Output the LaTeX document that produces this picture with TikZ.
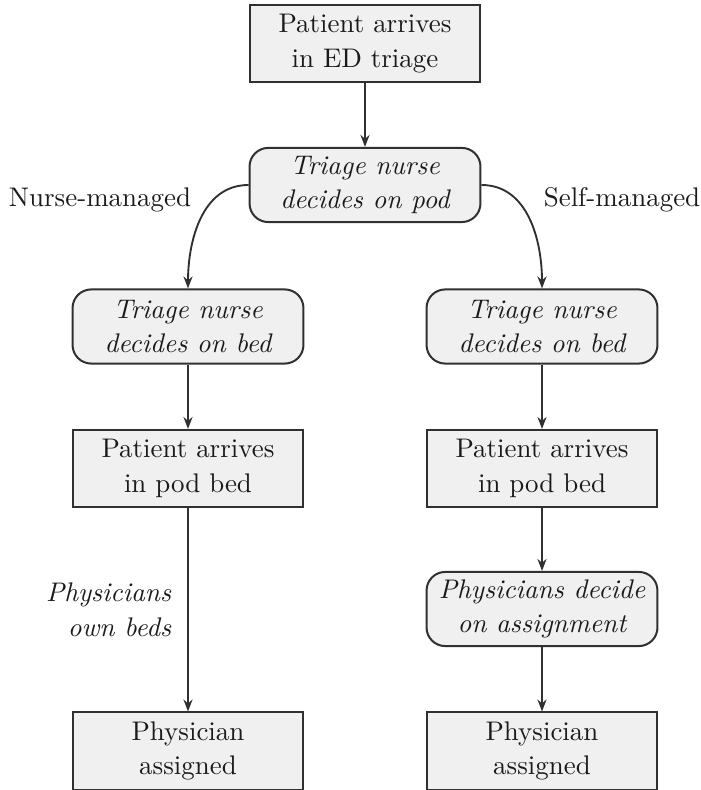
\documentclass[tikz,border=0pt]{standalone}
\usetikzlibrary{arrows.meta}
\definecolor{boxfill}{HTML}{F0F0F0}
\definecolor{linec}{HTML}{303030}
\definecolor{textc}{HTML}{1A1A1A}
\begin{document}
\begin{tikzpicture}[x=0.375pt,y=-0.375pt,
  every node/.style={font=\fontsize{10.1}{13}\selectfont, text=textc, inner sep=0pt},
  rectbox/.style={draw=linec, line width=0.75pt, fill=boxfill, minimum width=86.6pt, minimum height=28.9pt, align=center},
  roundbox/.style={rectbox, rounded corners=7pt, minimum height=27.8pt, font=\fontsize{10.1}{13}\selectfont\itshape},
  conn/.style={draw=linec, line width=0.7pt, -{Stealth[length=4.5pt,width=3.4pt]}},
  lbl/.style={align=center}
]
\useasboundingbox (0,0) rectangle (700,790);
\node[rectbox] (top) at (365,43.5) {Patient arrives\\in ED triage};
\node[roundbox] (pod) at (365,185) {Triage nurse\\decides on pod};
\node[roundbox] (lbed) at (188,326.5) {Triage nurse\\decides on bed};
\node[roundbox] (rbed) at (542,326.5) {Triage nurse\\decides on bed};
\node[rectbox] (lpod) at (188,468.5) {Patient arrives\\in pod bed};
\node[rectbox] (rpod) at (542,468.5) {Patient arrives\\in pod bed};
\node[roundbox] (phys) at (542,609) {Physicians decide\\on assignment};
\node[rectbox] (lasg) at (188,751) {Physician\\assigned};
\node[rectbox] (rasg) at (542,751) {Physician\\assigned};

\node[lbl] (nm) at (100,200) {Nurse-managed};
\node[lbl] (sm) at (622,200) {Self-managed};

\draw[conn] (top) -- (pod);
\draw[conn] (pod.west) to[out=180,in=90] (lbed.north);
\draw[conn] (pod.east) to[out=0,in=90] (rbed.north);
\draw[conn] (lbed) -- (lpod);
\draw[conn] (rbed) -- (rpod);
\draw[conn] (lpod) -- node[midway, anchor=east, xshift=-6pt, align=right, font=\fontsize{10.1}{13}\selectfont\itshape] (own) {Physicians\\own beds} (lasg);
\draw[conn] (rpod) -- (phys);
\draw[conn] (phys) -- (rasg);
\end{tikzpicture}
\end{document}
